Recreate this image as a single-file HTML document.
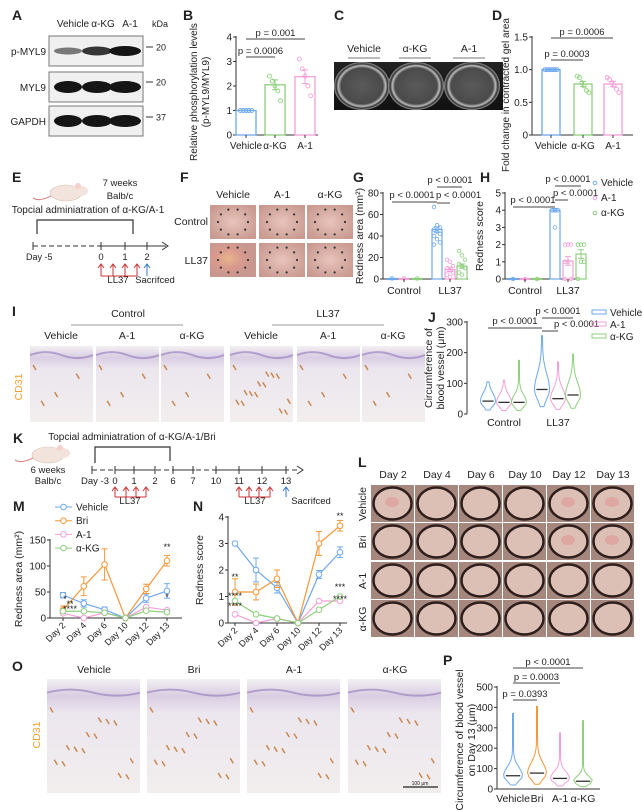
<!DOCTYPE html>
<html><head><meta charset="utf-8">
<style>
body{margin:0;background:#fff;}
svg{display:block;font-family:"Liberation Sans",sans-serif;}
text{fill:#222;}
</style></head>
<body>
<svg id="fig" width="642" height="810" viewBox="0 0 642 810" xmlns="http://www.w3.org/2000/svg">
<defs>
<radialGradient id="skin" cx="50%" cy="50%" r="60%"><stop offset="0" stop-color="#e8c4bd"/><stop offset="1" stop-color="#c99a90"/></radialGradient>
<radialGradient id="redskin" cx="40%" cy="45%" r="55%"><stop offset="0" stop-color="#e9b58a"/><stop offset="0.5" stop-color="#d99a8e"/><stop offset="1" stop-color="#c79790"/></radialGradient>
<linearGradient id="histo" x1="0" y1="0" x2="0" y2="1"><stop offset="0" stop-color="#f3f0f3"/><stop offset="0.15" stop-color="#d9cde3"/><stop offset="0.3" stop-color="#ece6ee"/><stop offset="1" stop-color="#f2eeee"/></linearGradient>
<linearGradient id="plate" x1="0" y1="0" x2="0" y2="1"><stop offset="0" stop-color="#222"/><stop offset="1" stop-color="#111"/></linearGradient>
<radialGradient id="well" cx="50%" cy="50%" r="50%"><stop offset="0" stop-color="#5a5a5a"/><stop offset="0.75" stop-color="#4a4a4a"/><stop offset="0.85" stop-color="#bbb"/><stop offset="0.92" stop-color="#333"/><stop offset="1" stop-color="#999"/></radialGradient>
</defs>
<g id="root"></g>
</svg>
<script>
// ---------- DATA ----------
const bCats = ["Vehicle","α-KG","A-1"];
const bVals = [1.0, 2.05, 2.38];
const bErr = [0.0, 0.2, 0.28];
const bPts = [[1,1,1,1,1],[2.4,2.2,2.0,1.8,1.4],[3.1,2.7,2.4,2.0,1.6]];
const bTicks = [0,1,2,3,4];
const dVals = [1.0, 0.78, 0.78];
const dErr = [0.0, 0.04, 0.04];
const dPts = [[1,1,1,1,1,1,1],[0.9,0.88,0.8,0.75,0.68,0.65],[0.88,0.85,0.8,0.75,0.7,0.65]];
const dTicks = [0,0.5,1.0,1.5];
const gGroups = ["Control","LL37"];
const gVals = [[0.5,0.5,0.5],[46,9,12]];
const gErr = [[0,0,0],[2.5,2,2]];
const gPts = [[[0.5],[0.5],[0.5]],[[67,50,48,46,44,42,40,37,34,32],[18,16,12,10,8,6,4,2],[26,22,18,14,12,10,6,4]]];
const gTicks = [0,20,40,60,80];
const hVals = [[0.03,0.03,0.03],[4,1.05,1.45]];
const hErr = [[0,0,0],[0.1,0.25,0.25]];
const hPts = [[[0],[0],[0]],[[4,4,4,4,3],[2,2,2,1,1,0,0],[2,2,2,2,1,1,0]]];
const hTicks = [0,1,2,3,4,5];
const jMax = [[105,110,175],[255,170,195]];
const jMed = [[42,38,38],[80,50,62]];
const jTicks = [0,100,200,300];
const days = ["Day 2","Day 4","Day 6","Day 10","Day 12","Day 13"];
const mSeries = ["Vehicle","Bri","A-1","α-KG"];
const mVeh = [44,28,16,0,38,52];
const mBri = [15,61,103,0,56,110];
const mA1 = [9,0,10,0,21,15];
const mKG = [13,13,10,0,14,11];
const mErrV = [5,7,5,0,8,14];
const mErrB = [8,18,30,0,9,10];
const mTicks = [0,50,100,150];
const nVeh = [3,2,1.33,0,1.83,2.67];
const nBri = [1.17,1.17,1.67,0,3,3.67];
const nA1 = [0.33,0,0.17,0,0.83,0.83];
const nKG = [0.83,0.33,0.17,0,0.5,1];
const nErrV = [0,0.45,0.2,0,0.15,0.2];
const nErrB = [0.5,0.3,0.33,0,0.45,0.2];
const nTicks = [0,1,2,3,4];
const pCats = ["Vehicle","Bri","A-1","α-KG"];
const pMax = [370,405,275,335];
const pMed = [65,78,52,38];
const pTicks = [0,100,200,300,400,500];

const C = {blue:"#6ea8ec",green:"#8fcf7e",pink:"#f3a0d6",orange:"#f4973a",grey:"#555"};
const NS="http://www.w3.org/2000/svg";
const root=document.getElementById('root');
function el(tag,attrs,parent,txt){const e=document.createElementNS(NS,tag);for(const k in attrs)e.setAttribute(k,attrs[k]);if(txt!==undefined)e.textContent=txt;(parent||root).appendChild(e);return e;}
function T(x,y,s,size,anchor,extra){const t=el('text',Object.assign({x:x,y:y,'font-size':size||10,'text-anchor':anchor||'middle'},extra||{}),root,s);return t;}
function lin(d0,d1,r0,r1){return v=>r0+(v-d0)*(r1-r0)/(d1-d0);}
function yAxis(x,y0,y1,ticks,sc,fmt){
  const a=el('line',{x1:x,y1:y0,x2:x,y2:y1,stroke:'#333','stroke-width':1});
  
  
  ticks.forEach(t=>{el('line',{x1:x-3,y1:sc(t),x2:x,y2:sc(t),stroke:'#333'});
    const tl=T(x-4,sc(t)+3.5,fmt?fmt(t):String(t),10,'end');
    
    });
}
function xAxis(x0,x1,y){const a=el('line',{x1:x0,y1:y,x2:x1,y2:y,stroke:'#333'});
  
  }
function pline(x0,x1,y){el('line',{x1:x0,y1:y,x2:x1,y2:y,stroke:'#444','stroke-width':1});}
function ptext(x,y,s,anchor){const t=T(x,y,s,9.5,anchor||'middle');
  
  }
function pbar(x0,x1,y,label){pline(x0,x1,y);ptext((x0+x1)/2,y-3,label);}
function panelLabel(s,x,y){const t=T(x,y,s,14,'start',{'font-weight':'bold'});
  
  }
function rotText(s,x,y,size,col){const t=T(x,y,s,size||10,'middle',{transform:`rotate(-90 ${x} ${y})`});if(col)t.style.fill=col;return t;}
function errBar(x,y0,y1,col){el('line',{x1:x,y1:y0,x2:x,y2:y1,stroke:col,'stroke-width':1});el('line',{x1:x-3,y1:y0,x2:x+3,y2:y0,stroke:col});el('line',{x1:x-3,y1:y1,x2:x+3,y2:y1,stroke:col});}

// ---------- A: western blot ----------
panelLabel('A',12,20);
[["Vehicle",73],["α-KG",103],["A-1",130]].forEach(a=>{const t=T(a[1],27,a[0],10);});
T(160,27,'kDa',9);
const blots=[["p-MYL9",36,[0.55,0.85,1],[3.5,4.5,5]],["MYL9",72,[1,1,1],[6,6,6]],["GAPDH",106,[1,1,1],[6,6,6]]];
blots.forEach(b=>{
  const r=el('rect',{x:49,y:b[1],width:94,height:30,fill:'#f0f0f0',stroke:'#777'});
  
  
  [[68,24],[97,26],[125,28]].forEach((c,i)=>{el('ellipse',{cx:c[0],cy:b[1]+15,rx:c[1]/2+2,ry:b[3][i],fill:'#151515','fill-opacity':b[2][i]});});
  T(46,b[1]+19,b[0],10,'end');
});
[[47,'20'],[82,'20'],[117,'37']].forEach(m=>{el('line',{x1:146,y1:m[0],x2:153,y2:m[0],stroke:'#333'});T(156,m[0]+3.5,m[1],9,'start');});

// ---------- bar chart helper ----------
function barChart(cfg){
  const sc=lin(cfg.d0,cfg.d1,cfg.y0,cfg.y1);
  yAxis(cfg.ax,cfg.y0,cfg.y1-1,cfg.ticks,sc,cfg.fmt);
  xAxis(cfg.ax,cfg.ax1,cfg.y0);
  cfg.cats.forEach((c,i)=>{
    const x=cfg.xs[i],col=cfg.cols[i];
    const r=el('rect',{x:x-cfg.bw/2,y:sc(cfg.vals[i]),width:cfg.bw,height:cfg.y0-sc(cfg.vals[i]),fill:'none',stroke:col,'stroke-width':1.3});
    
    
    errBar(x,sc(cfg.vals[i]-cfg.err[i]),sc(cfg.vals[i]+cfg.err[i]),col);
    cfg.pts[i].forEach((p,j)=>{const n=cfg.pts[i].length;el('circle',{cx:x+(j-(n-1)/2)*Math.min(3,14/n),cy:sc(p),r:2,fill:'none',stroke:col,'stroke-width':0.9});});
    el('line',{x1:x,y1:cfg.y0,x2:x,y2:cfg.y0+3,stroke:'#333'});
    const t=T(x,cfg.y0+14,c,10);
  });
  return sc;
}
// B
panelLabel('B',183,20);
barChart({d0:0,d1:4,y0:135,y1:37,ax:236,ax1:318,ticks:bTicks,cats:bCats,xs:[246,275,305],bw:20,vals:bVals,err:bErr,pts:bPts,cols:[C.blue,C.green,C.pink]});
rotText('Relative phosphorylation levels',197,92,10);
rotText('(p-MYL9/MYL9)',209,92,10);
pbar(246,275,57,'p = 0.0006');pbar(246,305,39,'p = 0.001');
// C
panelLabel('C',334,20);
[["Vehicle",364],["α-KG",415],["A-1",469]].forEach(a=>{T(a[1],52,a[0],10.5);el('line',{x1:a[1]-16,y1:58,x2:a[1]+16,y2:58,stroke:'#777'});});
const pl=el('rect',{x:334,y:62,width:169,height:48,fill:'url(#plate)'});

[362,416,472].forEach(cx=>el('ellipse',{cx:cx,cy:86,rx:28,ry:24,fill:'url(#well)'}));
// D
panelLabel('D',492,20);
barChart({d0:0,d1:1.5,y0:135,y1:37,ax:532,ax1:633,ticks:dTicks,cats:bCats,xs:[551,583,613],bw:18,vals:dVals,err:dErr,pts:dPts,cols:[C.blue,C.green,C.pink],fmt:t=>t===0?'0':t.toFixed(1)});
rotText('Fold change in contracted gel area',509,95,10);
pbar(551,583,60,'p = 0.0003');pbar(551,613,38,'p = 0.0006');

// ---------- E ----------
panelLabel('E',12,182);
function mouse(x,y){el('ellipse',{cx:x+18,cy:y,rx:16,ry:8,fill:'#f2e4dc',stroke:'#d9c2b5','stroke-width':0.6});el('ellipse',{cx:x+33,cy:y-2,rx:7,ry:5,fill:'#f2e4dc'});el('circle',{cx:x+30,cy:y-7,r:3,fill:'#f5d0cc'});el('path',{d:`M${x+3} ${y+3} q-12 6 -18 2`,stroke:'#d88a8a',fill:'none','stroke-width':1.2});}
mouse(48,193);
T(120,186,'7 weeks',9.5);T(120,199,'Balb/c',9.5);
T(88,213,'Topcial adminiatration of α-KG/A-1',10);
el('path',{d:'M37 234 V220 H133 V234',fill:'none',stroke:'#333','stroke-width':1.2});
el('line',{x1:33,y1:246,x2:100,y2:246,stroke:'#333','stroke-dasharray':'5 3'});
el('line',{x1:100,y1:246,x2:166,y2:246,stroke:'#333'});
el('path',{d:'M162 242 L168 246 L162 250',fill:'none',stroke:'#333'});
[33,101,125,147].forEach(x=>el('line',{x1:x,y1:242,x2:x,y2:250,stroke:'#333'}));
T(26,260,'Day -5',9,'start');T(101,260,'0',9.5);T(125,260,'1',9.5);T(147,260,'2',9.5);
[101,113,125,137].forEach(x=>{el('line',{x1:x,y1:265,x2:x,y2:276,stroke:'#c33'});el('path',{d:`M${x-3} 268 L${x} 264 L${x+3} 268`,fill:'none',stroke:'#c33'});});
el('line',{x1:101,y1:276,x2:137,y2:276,stroke:'#c33'});
el('line',{x1:147,y1:265,x2:147,y2:276,stroke:'#37c'});el('path',{d:'M144 268 L147 264 L150 268',fill:'none',stroke:'#37c'});
T(118,283,'LL37',9.5);T(155,283,'Sacrifced',9.5);

// ---------- F ----------
panelLabel('F',180,182);
[["Vehicle",233],["A-1",282],["α-KG",330]].forEach(a=>T(a[1],198,a[0],10.5));
T(208,225,'Control',10.5,'end');T(208,264,'LL37',10.5,'end');
[[205,0],[243,1]].forEach(r=>{[210,259,307].forEach((x,i)=>{
  const p=el('rect',{x:x,y:r[0],width:46,height:34,fill:(r[1]&&i===0)?'url(#redskin)':'url(#skin)'});
  
  for(let k=0;k<10;k++){const a=k/10*Math.PI*2;el('circle',{cx:x+23+15*Math.cos(a),cy:r[0]+17+13*Math.sin(a),r:1.1,fill:'#333'});}
});});

// ---------- G / H ----------
function groupedBars(cfg){
  const sc=lin(cfg.d0,cfg.d1,cfg.y0,cfg.y1);
  yAxis(cfg.ax,cfg.y0,cfg.y1-1,cfg.ticks,sc);
  xAxis(cfg.ax,cfg.ax1,cfg.y0);
  const cols=[C.blue,C.pink,C.green];
  cfg.groups.forEach((g,gi)=>{
    cfg.vals[gi].forEach((v,i)=>{const x=cfg.xs[gi][i],col=cols[i];
      const r=el('rect',{x:x-5,y:sc(v),width:10,height:Math.max(1,cfg.y0-sc(v)),fill:gi===0?col:'none','fill-opacity':0.6,stroke:col,'stroke-width':1.2});
      
      
      if(cfg.err[gi][i]>0)errBar(x,sc(v-cfg.err[gi][i]),sc(v+cfg.err[gi][i]),col);
      cfg.pts[gi][i].forEach((p,j)=>{const n=cfg.pts[gi][i].length;el('circle',{cx:x+(n>1?(j%3-1)*3:0),cy:sc(p),r:1.8,fill:'none',stroke:col,'stroke-width':0.8});});
    });
    const cx=cfg.xs[gi][1];el('line',{x1:cx,y1:cfg.y0,x2:cx,y2:cfg.y0+3,stroke:'#333'});
    T(cx,cfg.y0+15,g,10.5);
  });
  return sc;
}
panelLabel('G',353,182);
groupedBars({d0:0,d1:80,y0:279,y1:193,ax:383,ax1:468,ticks:gTicks,groups:gGroups,xs:[[392,404,417],[437,450,462]],vals:gVals,err:gErr,pts:gPts});
rotText('Redness area (mm²)',363,236,10.5);
pline(392,437,202);ptext(412,198,'p < 0.0001');
pline(437,450,203);ptext(436,198,'p < 0.0001','start');
pline(437,462,187);ptext(450,183,'p < 0.0001');
panelLabel('H',480,182);
groupedBars({d0:0,d1:5,y0:279,y1:193,ax:505,ax1:585,ticks:hTicks,groups:gGroups,xs:[[513,525,537],[555,568,581]],vals:hVals,err:hErr,pts:hPts});
rotText('Redness score',483,236,10.5);
pline(513,555,207);ptext(533,203,'p < 0.0001');
pline(555,568,200);ptext(553,196,'p < 0.0001','start');
pline(555,581,186);ptext(568,182,'p < 0.0001');
[["Vehicle",C.blue,186],["A-1",C.pink,201],["α-KG",C.green,216]].forEach(l=>{el('circle',{cx:595,cy:l[2]-3,r:1.8,fill:'none',stroke:l[1]});const t=T(601,l[2],l[0],10,'start');});

// ---------- I ----------
panelLabel('I',12,316);
T(128,317,'Control',10.5);el('line',{x1:71,y1:325,x2:183,y2:325,stroke:'#999'});
T(328,317,'LL37',10.5);el('line',{x1:272,y1:325,x2:384,y2:325,stroke:'#999'});
const iCols=[[30,"Vehicle"],[96,"A-1"],[161,"α-KG"],[230,"Vehicle"],[297,"A-1"],[362,"α-KG"]];
function histo(x,y,w,h,brown){const r=el('rect',{x:x,y:y,width:w,height:h,fill:'url(#histo)'});
  el('path',{d:`M${x} ${y+h*0.12} q${w*0.25} -6 ${w*0.5} 0 t${w*0.5} 0`,stroke:'#9c86c0',fill:'none','stroke-width':2,opacity:0.7});
  for(let k=0;k<brown;k++){const fx=((k*37)%97)/97,fy=((k*53)%89)/89;el('line',{x1:x+fx*w*0.9+3,y1:y+h*(0.25+fy*0.6),x2:x+fx*w*0.9+6,y2:y+h*(0.25+fy*0.6)+5,stroke:'#c0702a','stroke-width':1.5,opacity:0.8});}}
iCols.forEach((c,i)=>{T(c[0]+31,339,c[1],10.5);histo(c[0],346,63,76,i===3?14:4);});
rotText('CD31',22,387,10.5,'#f0a030');

// ---------- J ----------
panelLabel('J',428,322);
const scJ=lin(0,300,414,322);
yAxis(467,414,321,jTicks,scJ);
function violin(cx,max,med,col,w,sc){
  const pts=[];const lo=Math.max(8,med*0.3);
  for(let k=0;k<=20;k++){const v=lo+(max-lo)*k/20;const d=(v-med)/(v<med?med*0.55:med*0.9);pts.push([v,w*Math.exp(-d*d)+0.5]);}
  let d=`M${cx} ${sc(lo)}`;pts.forEach(p=>d+=` L${cx+p[1]} ${sc(p[0])}`);
  for(let k=pts.length-1;k>=0;k--)d+=` L${cx-pts[k][1]} ${sc(pts[k][0])}`;d+='Z';
  const v=el('path',{d:d,fill:'none',stroke:col,'stroke-width':1});
  el('line',{x1:cx-w*0.8,y1:sc(med),x2:cx+w*0.8,y2:sc(med),stroke:'#333','stroke-width':1.3});
  return v;
}
const jx=[[488,504,519],[542,558,573]];const jc=[C.blue,C.pink,C.green];
gGroups.forEach((g,gi)=>{jMax[gi].forEach((m,i)=>{const v=violin(jx[gi][i],m,jMed[gi][i],jc[i],7,scJ);
  
  });
  T(jx[gi][1],426,g,10.5);});
rotText('Circumference of',432,368,10.5);rotText('blood vessel (μm)',444,368,10.5);
pline(488,542,328);ptext(515,324,'p < 0.0001');
pline(542,573,318);ptext(558,314,'p < 0.0001');
pline(542,558,331);ptext(554,327,'p < 0.0001','start');
[["Vehicle",C.blue,316],["A-1",C.pink,328],["α-KG",C.green,340]].forEach(l=>{el('rect',{x:592,y:l[2]-6,width:14,height:4,fill:'none',stroke:l[1]});const t=T(610,l[2],l[0],10,'start');});

// ---------- K ----------
panelLabel('K',13,443);
mouse(30,455);T(48,473,'6 weeks',9.5);T(48,484,'Balb/c',9.5);
T(132,440,'Topcial adminiatration of α-KG/A-1/Bri',10);
el('path',{d:'M95 463 V447 H170 V461',fill:'none',stroke:'#333','stroke-width':1.2});
el('line',{x1:92,y1:470,x2:300,y2:470,stroke:'#333','stroke-dasharray':'5 3'});
[[115,155],[173,195],[216,286]].forEach(s=>el('line',{x1:s[0],y1:470,x2:s[1],y2:470,stroke:'#333'}));
el('path',{d:'M297 466 L303 470 L297 474',fill:'none',stroke:'#333'});
[[92,''],[115,'0'],[134,'1'],[155,'2'],[173,'6'],[193,'7'],[216,'10'],[239,'11'],[262,'12'],[286,'13']].forEach(t=>{el('line',{x1:t[0],y1:466,x2:t[0],y2:474,stroke:'#333'});if(t[1])T(t[0],484,t[1],9.5);});
T(81,484,'Day -3',9.5,'start');
[115,126,136,146,239,249,259,270].forEach(x=>{el('line',{x1:x,y1:488,x2:x,y2:497,stroke:'#c33'});el('path',{d:`M${x-3} 491 L${x} 487 L${x+3} 491`,fill:'none',stroke:'#c33'});});
el('line',{x1:115,y1:497,x2:146,y2:497,stroke:'#c33'});el('line',{x1:239,y1:497,x2:270,y2:497,stroke:'#c33'});
el('line',{x1:286,y1:488,x2:286,y2:497,stroke:'#37c'});el('path',{d:'M283 491 L286 487 L289 491',fill:'none',stroke:'#37c'});
T(130,504,'LL37',9.5);T(255,504,'LL37',9.5);T(311,504,'Sacrifced',9.5);

// ---------- M / N line charts ----------
function lineChart(cfg){
  const sc=lin(cfg.d0,cfg.d1,cfg.y0,cfg.y1);
  yAxis(cfg.ax,cfg.y0,cfg.y1-1,cfg.ticks,sc);
  xAxis(cfg.ax,cfg.ax1,cfg.y0);
  const xs=i=>cfg.x0+i*cfg.dx;
  days.forEach((d,i)=>{el('line',{x1:xs(i),y1:cfg.y0,x2:xs(i),y2:cfg.y0+3,stroke:'#333'});
    const t=T(xs(i)+3,cfg.y0+8,d,9,'end',{transform:`rotate(-45 ${xs(i)+3} ${cfg.y0+8})`});});
  cfg.series.forEach((s,si)=>{
    const col=cfg.cols[si];
    if(cfg.errs[si])s.forEach((v,i)=>{if(cfg.errs[si][i]>0)errBar(xs(i),sc(v-cfg.errs[si][i]),sc(v+cfg.errs[si][i]),col);});
    const pl=el('polyline',{points:s.map((v,i)=>xs(i)+','+sc(v)).join(' '),fill:'none',stroke:col,'stroke-width':1.2});
    
    
    s.forEach((v,i)=>el('circle',{cx:xs(i),cy:sc(v),r:2.8,fill:'#fff',stroke:col,'stroke-width':1}));
  });
  return {sc:sc,xs:xs};
}
panelLabel('M',13,511);
const cm=[C.blue,C.orange,C.pink,C.green];
lineChart({d0:0,d1:150,y0:618,y1:540,ax:50,ax1:182,ticks:mTicks,x0:63,dx:20.8,series:[mVeh,mBri,mA1,mKG],errs:[mErrV,mErrB,null,null],cols:cm});
rotText('Redness area (mm²)',22,579,10.5);
mSeries.forEach((s,i)=>{const y=507+i*13.7;el('line',{x1:55,y1:y,x2:72,y2:y,stroke:cm[i]});el('circle',{cx:63.5,cy:y,r:2.8,fill:'#fff',stroke:cm[i]});const t=T(76,y+3.5,s,10,'start');});
T(167,550,'**',9);T(65,602,'*',9);T(70,607,'**',9);T(70,612,'****',9);T(167,600,'*',9);
panelLabel('N',193,511);
lineChart({d0:0,d1:4,y0:623,y1:517,ax:228,ax1:347,ticks:nTicks,x0:235,dx:21,series:[nVeh,nBri,nA1,nKG],errs:[nErrV,nErrB,null,null],cols:cm});
rotText('Redness score',203,570,10.5);
T(235,580,'**',9);T(235,599,'****',9);T(235,609,'****',9);T(340,519,'**',9);T(340,590,'***',9);T(340,602,'****',9);

// ---------- L ----------
panelLabel('L',358,467);
const lx=[371,415,459,503,547,591];const ly=[485,523,562,600];
days.forEach((d,i)=>T(lx[i]+22,478,d,10.5));
["Vehicle","Bri","A-1","α-KG"].forEach((r,j)=>{rotText(r,366,ly[j]+19,10.5);
  lx.forEach((x,i)=>{const p=el('rect',{x:x,y:ly[j],width:43,height:37,fill:'#a5877d'});
    
    el('ellipse',{cx:x+21.5,cy:ly[j]+18.5,rx:19,ry:16,fill:'#dcc0b6',stroke:'#2e1e1c','stroke-width':2.5});
    if((j===0&&i!==1&&i!==2&&i!==3)||(j===1&&i>3))el('ellipse',{cx:x+21,cy:ly[j]+17,rx:7,ry:5,fill:'#e08a8a',opacity:0.45});});});

// ---------- O ----------
panelLabel('O',12,671);
[[47,"Vehicle"],[147,"Bri"],[247,"A-1"],[348,"α-KG"]].forEach(c=>{T(c[0]+47,673,c[1],10.5);histo(c[0],679,93,114,14);});
rotText('CD31',40,735,10.5,'#f0a030');
el('line',{x1:403,y1:787,x2:438,y2:787,stroke:'#222','stroke-width':1.3});T(420,785,'100 μm',5);

// ---------- P ----------
panelLabel('P',443,665);
const scP=lin(0,500,789,687);
yAxis(497,789,686,pTicks,scP);
xAxis(497,600,789);
const px=[513,537,560,583];const pc=[C.blue,C.orange,C.pink,C.green];
pCats.forEach((c,i)=>{const v=violin(px[i],pMax[i],pMed[i],pc[i],9,scP);
  
  
  const t=T(px[i],802,c,10.5);});
rotText('Circumference of blood vessel',463,740,10.5);rotText('on Day 13 (μm)',475,740,10.5);
pbar(513,537,700,'p = 0.0393');pbar(513,560,683,'p = 0.0003');pbar(513,583,668,'p < 0.0001');
</script>
</body></html>
